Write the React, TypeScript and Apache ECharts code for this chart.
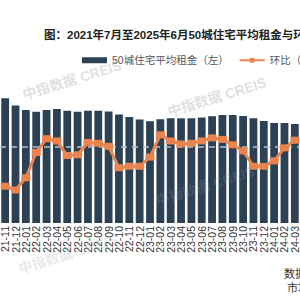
import React, { useEffect, useRef } from "react";
import * as echarts from "echarts";

const categories = [
  "21-11", "21-12", "22-01", "22-02", "22-03", "22-04", "22-05", "22-06", "22-07", "22-08",
  "22-09", "22-10", "22-11", "22-12", "23-01", "23-02", "23-03", "23-04", "23-05", "23-06",
  "23-07", "23-08", "23-09", "23-10", "23-11", "23-12", "24-01", "24-02", "24-03",
];

// 50城住宅平均租金（元/平方米/月）
const rent = [
  37.23, 36.81, 36.55, 36.45, 36.55, 36.61, 36.51, 36.45, 36.51, 36.51,
  36.46, 36.29, 36.14, 36.0, 35.9, 36.01, 36.07, 36.07, 36.07, 36.12,
  36.19, 36.26, 36.26, 36.2, 36.07, 35.91, 35.8, 35.8, 35.74,
];

// 环比（%）
const mom = [
  -0.52, -0.57, -0.41, -0.08, 0.1, 0.07, -0.12, -0.11, 0.05, 0.04,
  0.0, -0.28, -0.26, -0.26, -0.14, 0.15, 0.07, 0.03, 0.04, 0.07,
  0.11, 0.09, 0.02, -0.06, -0.26, -0.26, -0.19, -0.02, 0.08,
];

const titleText = "图：2021年7月至2025年6月50城住宅平均租金与环比";
const barName = "50城住宅平均租金（左）";
const lineName = "环比（右）";
const watermark = "中指数据 CREIS";

const FONT = "'Liberation Sans', 'Noto Sans CJK SC', sans-serif";

export default function App() {
  const ref = useRef<HTMLDivElement>(null);
  useEffect(() => {
    if (!ref.current) return;
    const chart = echarts.init(ref.current, null, { renderer: "svg", width: 300, height: 300 });
    const wm = (x: number, y: number, op: number) => ({
      type: "text",
      x,
      y,
      rotation: 0.3,
      z: 100,
      silent: true,
      style: {
        text: watermark,
        fill: `rgba(160,166,172,${op})`,
        font: `bold 14px ${FONT}`,
        align: "center",
        verticalAlign: "middle",
      },
    });
    chart.setOption({
      animation: false,
      backgroundColor: "#ffffff",
      textStyle: { fontFamily: FONT },
      title: {
        text: titleText,
        left: 44,
        top: 29,
        padding: 0,
        textStyle: { fontSize: 11.5, fontWeight: "bold", color: "#222", fontFamily: FONT },
      },
      legend: {
        left: 82,
        top: 55,
        width: 600,
        orient: "horizontal",
        padding: 0,
        itemWidth: 25,
        itemHeight: 6,
        itemGap: 10,
        textStyle: { fontSize: 10.5, color: "#555", fontFamily: FONT },
        data: [
          { name: barName, icon: "rect" },
          { name: lineName },
        ],
      },
      grid: { left: -2.9, right: -4.5, top: 85, bottom: 77, containLabel: false },
      xAxis: {
        type: "category",
        data: categories,
        axisTick: { show: false },
        axisLine: { show: false },
        axisLabel: { rotate: 90, fontSize: 10.5, color: "#333", margin: 3, interval: 0, fontFamily: FONT },
      },
      yAxis: [
        { type: "value", min: 30, max: 38, show: false },
        { type: "value", min: -1.0, max: 0.8, show: false },
      ],
      series: [
        {
          name: barName,
          type: "bar",
          data: rent,
          barWidth: 7.8,
          itemStyle: { color: "#2c4154" },
          z: 2,
        },
        {
          name: lineName,
          type: "line",
          yAxisIndex: 1,
          data: mom,
          symbol: "rect",
          symbolSize: [9, 7],
          lineStyle: { color: "#e9844f", width: 3 },
          itemStyle: { color: "#e9844f" },
          z: 5,
          markLine: {
            silent: true,
            symbol: "none",
            label: { show: false },
            lineStyle: { color: "#b5c1cb", type: [6, 5], width: 1.5 },
            data: [{ yAxis: 0 }],
            z: 4,
          },
        },
      ],
      graphic: [
        wm(72, 80, 0.35),
        wm(217, 97, 0.35),
        wm(205, 186, 0.2),
        wm(68, 254, 0.25),
        {
          type: "text",
          x: 284,
          y: 268,
          style: { text: "数据来源：中指数据CREIS", fill: "#333", font: `11px ${FONT}` },
        },
        {
          type: "text",
          x: 287,
          y: 282,
          style: { text: "市场研究", fill: "#333", font: `11px ${FONT}` },
        },
      ],
    });
    return () => chart.dispose();
  }, []);
  return (
    <div
      ref={ref}
      style={{ position: "absolute", left: 0, top: 0, width: 300, height: 300, overflow: "hidden" }}
    />
  );
}
